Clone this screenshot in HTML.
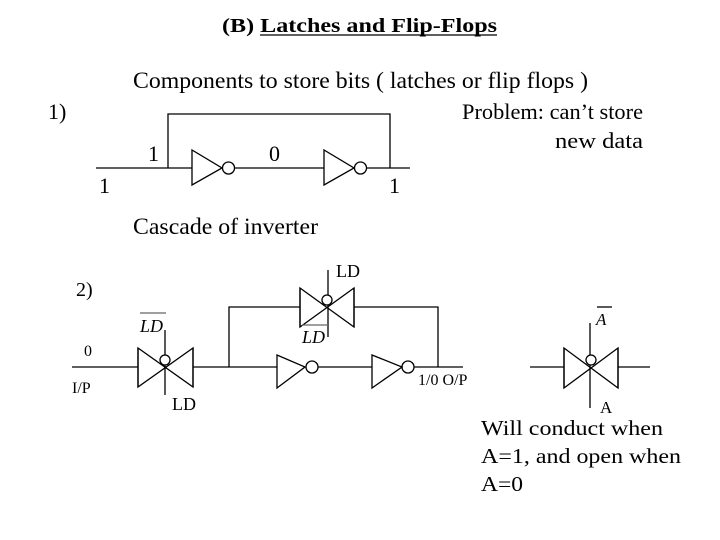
<!DOCTYPE html>
<html><head><style>
body{margin:0;width:720px;height:540px;background:#fff;overflow:hidden}
svg{position:absolute;left:0;top:0}
text{font-family:"Liberation Serif",serif;fill:#000}
</style></head><body>
<svg width="720" height="540" viewBox="0 0 720 540">
<g stroke="#000" stroke-width="1.3" fill="none">
<polyline points="96,168 192,168"/>
<polyline points="168,168 168,114 390,114 390,168"/>
<polygon points="192,150 192,185 222,168"/>
<circle cx="228.5" cy="168" r="6"/>
<line x1="235" y1="168" x2="324" y2="168"/>
<polygon points="324,150 324,185 354,168"/>
<circle cx="360.5" cy="168" r="6"/>
<line x1="367" y1="168" x2="410" y2="168"/>
<line x1="72" y1="367" x2="138" y2="367"/>
<polygon points="138,348 138,387 193,348 193,387"/>
<line x1="138" y1="348" x2="138" y2="387"/><line x1="193" y1="348" x2="193" y2="387"/>
<line x1="165" y1="330" x2="165" y2="395"/>
<circle cx="165" cy="360" r="5" fill="#fff"/>
<line x1="193" y1="367" x2="277" y2="367"/>
<polyline points="229,367 229,307 300,307"/>
<polygon points="300,288 300,327 354,288 354,327"/>
<line x1="300" y1="288" x2="300" y2="327"/><line x1="354" y1="288" x2="354" y2="327"/>
<line x1="328" y1="270" x2="328" y2="337"/>
<circle cx="327" cy="300" r="5" fill="#fff"/>
<polyline points="354,307 438,307 438,367"/>
<polygon points="277,355 277,388 305,367"/>
<circle cx="312" cy="367" r="6"/>
<line x1="318" y1="367" x2="372" y2="367"/>
<polygon points="372,355 372,388 402,367"/>
<circle cx="408" cy="367" r="6"/>
<line x1="414" y1="367" x2="463" y2="367"/>
<line x1="530" y1="367" x2="564" y2="367"/>
<polygon points="564,348 564,388 618,348 618,388"/>
<line x1="564" y1="348" x2="564" y2="388"/><line x1="618" y1="348" x2="618" y2="388"/>
<line x1="618" y1="367" x2="650" y2="367"/>
<line x1="590" y1="323" x2="590" y2="408"/>
<circle cx="591" cy="360" r="5" fill="#fff"/>
<line x1="140" y1="313" x2="166" y2="313" stroke="#666"/>
<line x1="302" y1="325" x2="328" y2="325" stroke="#666"/>
<line x1="597" y1="307" x2="612" y2="307"/>
<line x1="260" y1="35" x2="497" y2="35"/>
</g>
<text x="222" y="32" font-size="20" font-weight="bold" textLength="275" lengthAdjust="spacingAndGlyphs">(B) Latches and Flip-Flops</text>
<text x="133" y="88" font-size="23" textLength="455" lengthAdjust="spacingAndGlyphs">Components to store bits ( latches or flip flops )</text>
<text x="48" y="119" font-size="22">1)</text>
<text x="462" y="119" font-size="22" textLength="181" lengthAdjust="spacingAndGlyphs">Problem: can’t store</text>
<text x="555" y="148" font-size="22" textLength="88" lengthAdjust="spacingAndGlyphs">new data</text>
<text x="148" y="161" font-size="22">1</text>
<text x="269" y="161" font-size="22">0</text>
<text x="99" y="193" font-size="22">1</text>
<text x="389" y="193" font-size="22">1</text>
<text x="133" y="234" font-size="23" textLength="185" lengthAdjust="spacingAndGlyphs">Cascade of inverter</text>
<text x="76" y="296" font-size="20">2)</text>
<text x="84" y="356" font-size="16">0</text>
<text x="72" y="393" font-size="16">I/P</text>
<text x="140" y="332" font-size="18" font-style="italic">LD</text>
<text x="172" y="410" font-size="18">LD</text>
<text x="336" y="277" font-size="18">LD</text>
<text x="302" y="343" font-size="18" font-style="italic">LD</text>
<text x="418" y="385" font-size="16">1/0 O/P</text>
<text x="596" y="325" font-size="17" font-style="italic">A</text>
<text x="600" y="413" font-size="17">A</text>
<text x="481" y="435" font-size="21" textLength="182" lengthAdjust="spacingAndGlyphs">Will conduct when</text>
<text x="481" y="463" font-size="21" textLength="200" lengthAdjust="spacingAndGlyphs">A=1, and open when</text>
<text x="481" y="491" font-size="21" textLength="42" lengthAdjust="spacingAndGlyphs">A=0</text>
</svg>
</body></html>
